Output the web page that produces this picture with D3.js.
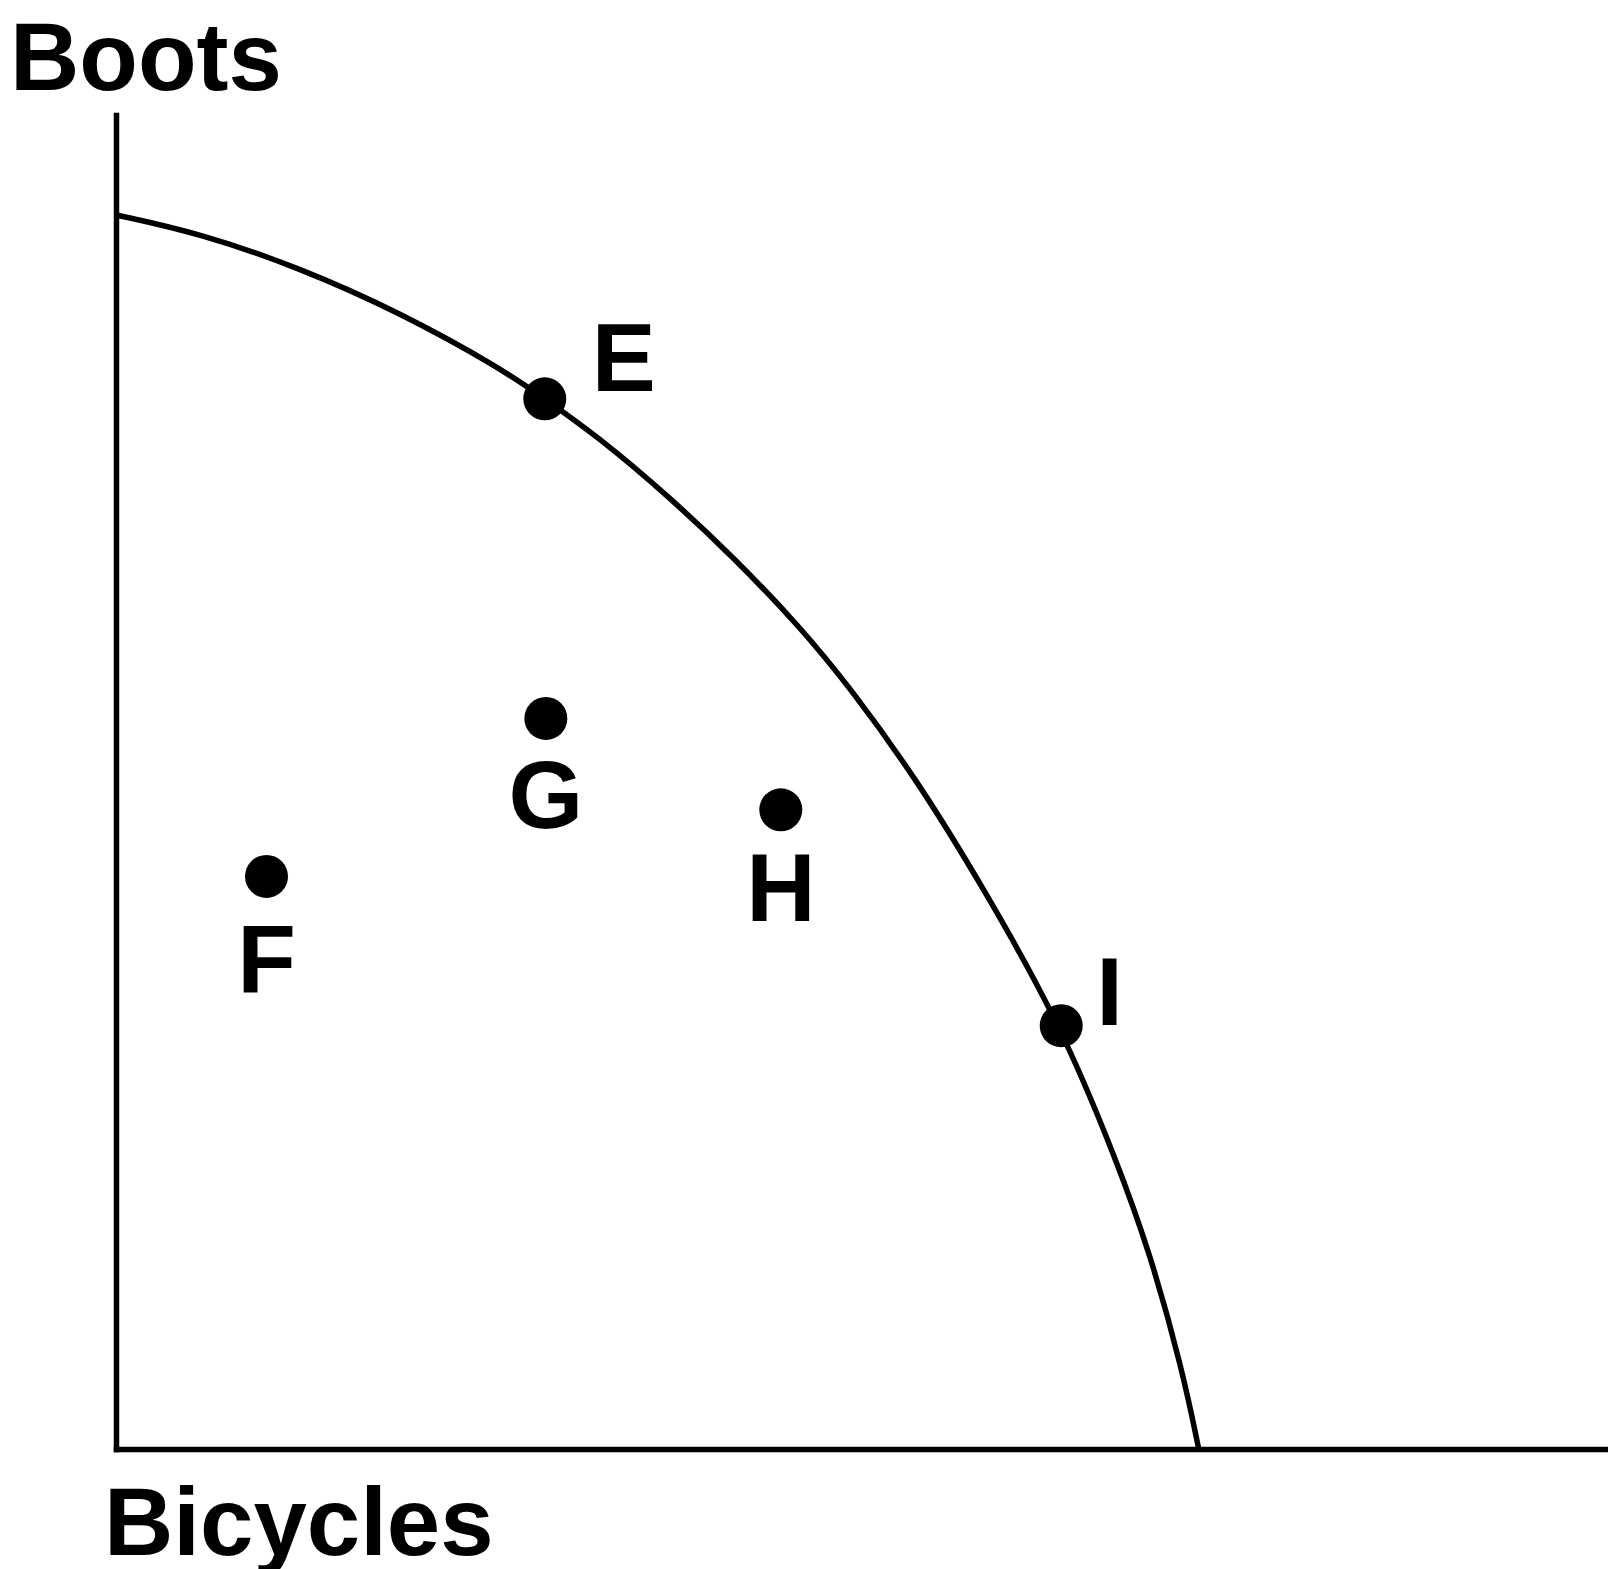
<!DOCTYPE html>
<html>
<head>
<meta charset="utf-8">
<script src="https://cdn.jsdelivr.net/npm/d3@7"></script>
<style>
  html, body { margin: 0; padding: 0; background: #fff; }
  svg { display: block; }
  .lbl { font-family: "Liberation Sans", Arial, sans-serif; font-weight: bold; font-size: 96px; fill: #000; }
</style>
</head>
<body>
<script>
// production possibilities frontier (bicycles, boots)
const frontierX = [0, 7.8, 17.0, 26.2, 35.5, 39.6, 44.7, 50.9, 57.0, 63.2, 67.8, 74.0, 80.1, 87.3, 92.4, 95.5, 98.5, 100];
const frontierY = [100, 98.5, 95.7, 92.1, 87.6, 85.1, 81.9, 77.3, 72.3, 66.6, 61.7, 54.2, 45.5, 34.3, 23.4, 15.9, 6.4, 0];

const pointNames = ["E", "F", "G", "H", "I"];
const pointX = [39.6, 13.9, 39.7, 61.4, 87.3];
const pointY = [85.1, 46.4, 59.2, 51.8, 34.3];

const xTitle = "Bicycles";
const yTitle = "Boots";

// layout only
const W = 1608, H = 1569;
const labelOffset = {
  E: { dx: 47, dy: -8, anchor: "start" },
  F: { dx: 0, dy: 116, anchor: "middle" },
  G: { dx: 0, dy: 110, anchor: "middle" },
  H: { dx: 0, dy: 111, anchor: "middle" },
  I: { dx: 35, dy: -1, anchor: "start" }
};

const x = d3.scaleLinear().domain([0, 137.8]).range([116, 1608]);
const y = d3.scaleLinear().domain([0, 108.1]).range([1449, 115]);

const svg = d3.select("body").append("svg")
  .attr("width", W)
  .attr("height", H);

// axes: just the domain lines, no ticks
svg.append("g")
  .attr("transform", `translate(0,${y(0)})`)
  .call(d3.axisBottom(x).ticks(0).tickSizeOuter(0));
svg.append("g")
  .attr("transform", `translate(${x(0)},0)`)
  .call(d3.axisLeft(y).ticks(0).tickSizeOuter(0));

svg.selectAll(".domain")
  .attr("stroke", "#000")
  .attr("stroke-width", 5.5)
  .attr("stroke-linecap", "square");

// the frontier curve (basis spline smooths the hand-read points)
const curveData = frontierX.map((v, i) => ({ x: v, y: frontierY[i] }));
const line = d3.line()
  .x(d => x(d.x))
  .y(d => y(d.y))
  .curve(d3.curveBasis);

svg.append("path")
  .datum(curveData)
  .attr("d", line)
  .attr("fill", "none")
  .attr("stroke", "#000")
  .attr("stroke-width", 5.5);

// points and their letters
const pts = pointNames.map((n, i) => ({ name: n, x: pointX[i], y: pointY[i] }));

svg.selectAll("circle.pt")
  .data(pts)
  .enter()
  .append("circle")
  .attr("class", "pt")
  .attr("cx", d => x(d.x))
  .attr("cy", d => y(d.y))
  .attr("r", 21.5)
  .attr("fill", "#000");

svg.selectAll("text.pt")
  .data(pts)
  .enter()
  .append("text")
  .attr("class", "lbl pt")
  .attr("x", d => x(d.x) + labelOffset[d.name].dx)
  .attr("y", d => y(d.y) + labelOffset[d.name].dy)
  .attr("text-anchor", d => labelOffset[d.name].anchor)
  .text(d => d.name);

// axis titles
svg.append("text")
  .attr("class", "lbl")
  .attr("x", 10)
  .attr("y", 90)
  .text(yTitle);

svg.append("text")
  .attr("class", "lbl")
  .attr("x", 104)
  .attr("y", 1555)
  .text(xTitle);
</script>
</body>
</html>
